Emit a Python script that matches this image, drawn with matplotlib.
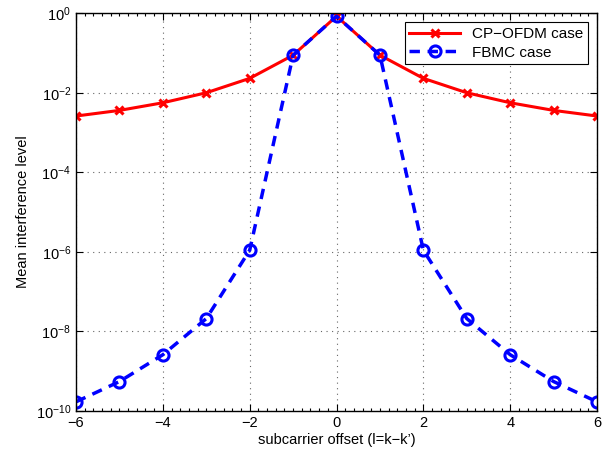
import matplotlib
matplotlib.use('Agg')
import matplotlib.pyplot as plt
from matplotlib.ticker import MultipleLocator, FixedLocator, NullLocator

offsets = [-6, -5, -4, -3, -2, -1, 0, 1, 2, 3, 4, 5, 6]
ofdm_level = [2.6e-3, 3.6e-3, 5.6e-3, 1.0e-2, 2.3e-2, 8.8e-2, 0.84,
              8.8e-2, 2.3e-2, 1.0e-2, 5.6e-3, 3.6e-3, 2.6e-3]
fbmc_level = [1.7e-10, 5.5e-10, 2.6e-9, 2.1e-8, 1.1e-6, 8.8e-2, 0.84,
              8.8e-2, 1.1e-6, 2.1e-8, 2.6e-9, 5.5e-10, 1.7e-10]
y_ticks = [1e-10, 1e-8, 1e-6, 1e-4, 1e-2, 1]

plt.rcParams['font.family'] = 'Liberation Sans'
plt.rcParams['mathtext.fontset'] = 'custom'
plt.rcParams['mathtext.rm'] = 'Liberation Sans'
plt.rcParams['mathtext.it'] = 'Liberation Sans'

fig = plt.figure(figsize=(6.13, 4.55), dpi=100)
ax = fig.add_axes([0.124, 0.0967, 0.850, 0.8743])

ax.semilogy(offsets, ofdm_level, color='red', lw=2.2, marker='x',
            markersize=6, markeredgewidth=2.2, label='CP\u2212OFDM case')
ax.semilogy(offsets, fbmc_level, color='blue', lw=2.5, ls=(0, (3, 2.2)),
            marker='o', markersize=8, markerfacecolor='none',
            markeredgewidth=2.2, label='FBMC case')

ax.set_xlim(-6, 6)
ax.set_ylim(1e-10, 1)
ax.xaxis.set_major_locator(MultipleLocator(2))
ax.xaxis.set_minor_locator(MultipleLocator(0.2))
ax.yaxis.set_major_locator(FixedLocator(y_ticks))
ax.yaxis.set_minor_locator(NullLocator())
ax.tick_params(which='both', direction='in', top=True, right=True,
               labelsize=10.5, width=0.8)
ax.tick_params(which='major', length=5)
ax.tick_params(which='minor', length=2)
ax.grid(True, which='major', ls=(0, (1, 4)), color='#666666', lw=0.8)
for s in ax.spines.values():
    s.set_linewidth(1.0)

ax.set_xlabel("subcarrier offset (l=k\u2212k\u2019)", fontsize=10.5, labelpad=2)
ax.set_ylabel("Mean interference level", fontsize=10.5, labelpad=4)

leg = ax.legend(loc='upper right', fontsize=11, fancybox=False,
                edgecolor='black', framealpha=1, borderaxespad=0.6,
                handlelength=3.3, borderpad=0.3, labelspacing=0.3)
leg.get_frame().set_linewidth(0.8)

fig.savefig('out.png', dpi=100)
